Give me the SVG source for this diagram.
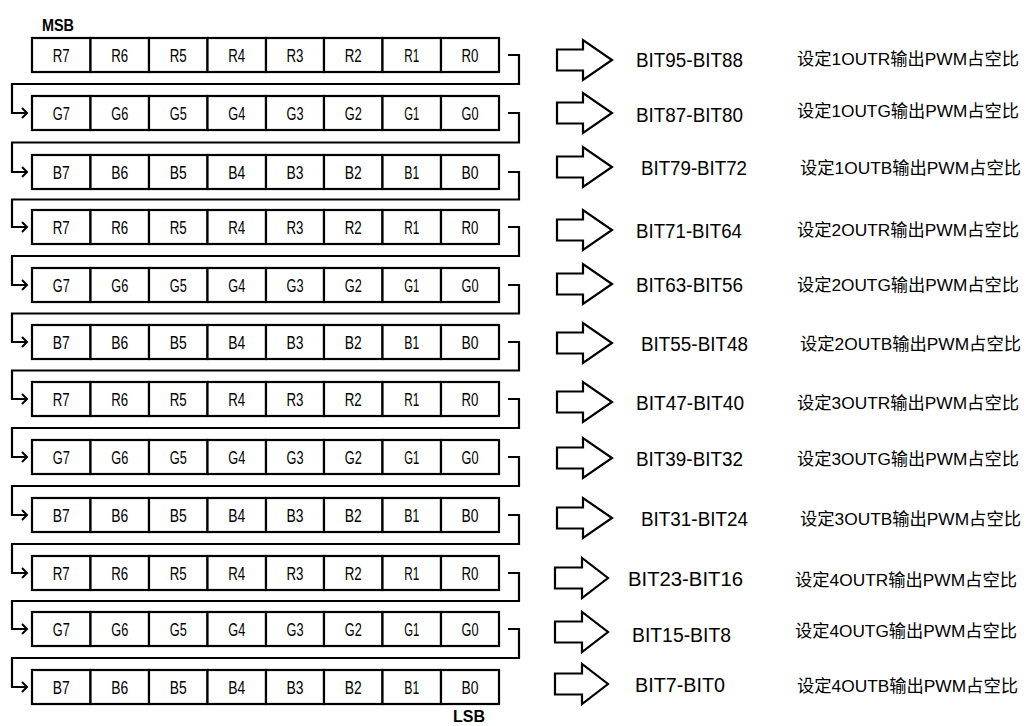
<svg xmlns="http://www.w3.org/2000/svg" width="1031" height="726" viewBox="0 0 1031 726">
<style>
rect{fill:#fff;stroke:#000;stroke-width:2.2}
.c{font-family:"Liberation Sans",Arial,sans-serif;font-size:18px;text-anchor:middle;fill:#000}
.bit{font-family:"Liberation Sans",Arial,sans-serif;font-size:20px;fill:#000}
.cn{font-family:"Liberation Sans","Noto Sans CJK SC",sans-serif;font-size:17px;fill:#000}
.tag{font-family:"Liberation Sans",Arial,sans-serif;font-size:17px;font-weight:bold;fill:#000}
.conn{fill:none;stroke:#000;stroke-width:2.2}
.big{fill:#fff;stroke:#000;stroke-width:2.2;stroke-linejoin:miter}
</style>
<defs>
<marker id="chev" markerUnits="userSpaceOnUse" markerWidth="10" markerHeight="12" refX="6" refY="6" orient="auto">
<path d="M1,1 L6,6 L1,11" fill="none" stroke="#000" stroke-width="2"/>
</marker>
</defs>
<rect x="0" y="0" width="1031" height="726" style="stroke:none"/>
<text class="tag" x="42" y="31" textLength="32" lengthAdjust="spacingAndGlyphs">MSB</text>
<text class="tag" x="453" y="722" textLength="32" lengthAdjust="spacingAndGlyphs">LSB</text>

<g id="row1">
<rect x="32" y="38" width="58.5" height="34"/><rect x="90.5" y="38" width="58.5" height="34"/><rect x="149" y="38" width="58.5" height="34"/><rect x="207.5" y="38" width="58.5" height="34"/><rect x="266" y="38" width="58" height="34"/><rect x="324" y="38" width="58.5" height="34"/><rect x="382.5" y="38" width="58.5" height="34"/><rect x="441" y="38" width="58" height="34"/>
<text class="c" x="61.25" y="61.5" textLength="17" lengthAdjust="spacingAndGlyphs">R7</text><text class="c" x="119.75" y="61.5" textLength="17" lengthAdjust="spacingAndGlyphs">R6</text><text class="c" x="178.25" y="61.5" textLength="17" lengthAdjust="spacingAndGlyphs">R5</text><text class="c" x="236.75" y="61.5" textLength="17" lengthAdjust="spacingAndGlyphs">R4</text><text class="c" x="295" y="61.5" textLength="17" lengthAdjust="spacingAndGlyphs">R3</text><text class="c" x="353.25" y="61.5" textLength="17" lengthAdjust="spacingAndGlyphs">R2</text><text class="c" x="411.75" y="61.5" textLength="15" lengthAdjust="spacingAndGlyphs">R1</text><text class="c" x="470" y="61.5" textLength="17" lengthAdjust="spacingAndGlyphs">R0</text>
</g>
<g id="row2">
<rect x="32" y="96" width="58.5" height="34"/><rect x="90.5" y="96" width="58.5" height="34"/><rect x="149" y="96" width="58.5" height="34"/><rect x="207.5" y="96" width="58.5" height="34"/><rect x="266" y="96" width="58" height="34"/><rect x="324" y="96" width="58.5" height="34"/><rect x="382.5" y="96" width="58.5" height="34"/><rect x="441" y="96" width="58" height="34"/>
<text class="c" x="61.25" y="119.5" textLength="17" lengthAdjust="spacingAndGlyphs">G7</text><text class="c" x="119.75" y="119.5" textLength="17" lengthAdjust="spacingAndGlyphs">G6</text><text class="c" x="178.25" y="119.5" textLength="17" lengthAdjust="spacingAndGlyphs">G5</text><text class="c" x="236.75" y="119.5" textLength="17" lengthAdjust="spacingAndGlyphs">G4</text><text class="c" x="295" y="119.5" textLength="17" lengthAdjust="spacingAndGlyphs">G3</text><text class="c" x="353.25" y="119.5" textLength="17" lengthAdjust="spacingAndGlyphs">G2</text><text class="c" x="411.75" y="119.5" textLength="15" lengthAdjust="spacingAndGlyphs">G1</text><text class="c" x="470" y="119.5" textLength="17" lengthAdjust="spacingAndGlyphs">G0</text>
</g>
<g id="row3">
<rect x="32" y="155" width="58.5" height="34"/><rect x="90.5" y="155" width="58.5" height="34"/><rect x="149" y="155" width="58.5" height="34"/><rect x="207.5" y="155" width="58.5" height="34"/><rect x="266" y="155" width="58" height="34"/><rect x="324" y="155" width="58.5" height="34"/><rect x="382.5" y="155" width="58.5" height="34"/><rect x="441" y="155" width="58" height="34"/>
<text class="c" x="61.25" y="178.5" textLength="17" lengthAdjust="spacingAndGlyphs">B7</text><text class="c" x="119.75" y="178.5" textLength="17" lengthAdjust="spacingAndGlyphs">B6</text><text class="c" x="178.25" y="178.5" textLength="17" lengthAdjust="spacingAndGlyphs">B5</text><text class="c" x="236.75" y="178.5" textLength="17" lengthAdjust="spacingAndGlyphs">B4</text><text class="c" x="295" y="178.5" textLength="17" lengthAdjust="spacingAndGlyphs">B3</text><text class="c" x="353.25" y="178.5" textLength="17" lengthAdjust="spacingAndGlyphs">B2</text><text class="c" x="411.75" y="178.5" textLength="15" lengthAdjust="spacingAndGlyphs">B1</text><text class="c" x="470" y="178.5" textLength="17" lengthAdjust="spacingAndGlyphs">B0</text>
</g>
<g id="row4">
<rect x="32" y="210" width="58.5" height="34"/><rect x="90.5" y="210" width="58.5" height="34"/><rect x="149" y="210" width="58.5" height="34"/><rect x="207.5" y="210" width="58.5" height="34"/><rect x="266" y="210" width="58" height="34"/><rect x="324" y="210" width="58.5" height="34"/><rect x="382.5" y="210" width="58.5" height="34"/><rect x="441" y="210" width="58" height="34"/>
<text class="c" x="61.25" y="233.5" textLength="17" lengthAdjust="spacingAndGlyphs">R7</text><text class="c" x="119.75" y="233.5" textLength="17" lengthAdjust="spacingAndGlyphs">R6</text><text class="c" x="178.25" y="233.5" textLength="17" lengthAdjust="spacingAndGlyphs">R5</text><text class="c" x="236.75" y="233.5" textLength="17" lengthAdjust="spacingAndGlyphs">R4</text><text class="c" x="295" y="233.5" textLength="17" lengthAdjust="spacingAndGlyphs">R3</text><text class="c" x="353.25" y="233.5" textLength="17" lengthAdjust="spacingAndGlyphs">R2</text><text class="c" x="411.75" y="233.5" textLength="15" lengthAdjust="spacingAndGlyphs">R1</text><text class="c" x="470" y="233.5" textLength="17" lengthAdjust="spacingAndGlyphs">R0</text>
</g>
<g id="row5">
<rect x="32" y="268" width="58.5" height="34"/><rect x="90.5" y="268" width="58.5" height="34"/><rect x="149" y="268" width="58.5" height="34"/><rect x="207.5" y="268" width="58.5" height="34"/><rect x="266" y="268" width="58" height="34"/><rect x="324" y="268" width="58.5" height="34"/><rect x="382.5" y="268" width="58.5" height="34"/><rect x="441" y="268" width="58" height="34"/>
<text class="c" x="61.25" y="291.5" textLength="17" lengthAdjust="spacingAndGlyphs">G7</text><text class="c" x="119.75" y="291.5" textLength="17" lengthAdjust="spacingAndGlyphs">G6</text><text class="c" x="178.25" y="291.5" textLength="17" lengthAdjust="spacingAndGlyphs">G5</text><text class="c" x="236.75" y="291.5" textLength="17" lengthAdjust="spacingAndGlyphs">G4</text><text class="c" x="295" y="291.5" textLength="17" lengthAdjust="spacingAndGlyphs">G3</text><text class="c" x="353.25" y="291.5" textLength="17" lengthAdjust="spacingAndGlyphs">G2</text><text class="c" x="411.75" y="291.5" textLength="15" lengthAdjust="spacingAndGlyphs">G1</text><text class="c" x="470" y="291.5" textLength="17" lengthAdjust="spacingAndGlyphs">G0</text>
</g>
<g id="row6">
<rect x="32" y="325" width="58.5" height="34"/><rect x="90.5" y="325" width="58.5" height="34"/><rect x="149" y="325" width="58.5" height="34"/><rect x="207.5" y="325" width="58.5" height="34"/><rect x="266" y="325" width="58" height="34"/><rect x="324" y="325" width="58.5" height="34"/><rect x="382.5" y="325" width="58.5" height="34"/><rect x="441" y="325" width="58" height="34"/>
<text class="c" x="61.25" y="348.5" textLength="17" lengthAdjust="spacingAndGlyphs">B7</text><text class="c" x="119.75" y="348.5" textLength="17" lengthAdjust="spacingAndGlyphs">B6</text><text class="c" x="178.25" y="348.5" textLength="17" lengthAdjust="spacingAndGlyphs">B5</text><text class="c" x="236.75" y="348.5" textLength="17" lengthAdjust="spacingAndGlyphs">B4</text><text class="c" x="295" y="348.5" textLength="17" lengthAdjust="spacingAndGlyphs">B3</text><text class="c" x="353.25" y="348.5" textLength="17" lengthAdjust="spacingAndGlyphs">B2</text><text class="c" x="411.75" y="348.5" textLength="15" lengthAdjust="spacingAndGlyphs">B1</text><text class="c" x="470" y="348.5" textLength="17" lengthAdjust="spacingAndGlyphs">B0</text>
</g>
<g id="row7">
<rect x="32" y="382" width="58.5" height="34"/><rect x="90.5" y="382" width="58.5" height="34"/><rect x="149" y="382" width="58.5" height="34"/><rect x="207.5" y="382" width="58.5" height="34"/><rect x="266" y="382" width="58" height="34"/><rect x="324" y="382" width="58.5" height="34"/><rect x="382.5" y="382" width="58.5" height="34"/><rect x="441" y="382" width="58" height="34"/>
<text class="c" x="61.25" y="405.5" textLength="17" lengthAdjust="spacingAndGlyphs">R7</text><text class="c" x="119.75" y="405.5" textLength="17" lengthAdjust="spacingAndGlyphs">R6</text><text class="c" x="178.25" y="405.5" textLength="17" lengthAdjust="spacingAndGlyphs">R5</text><text class="c" x="236.75" y="405.5" textLength="17" lengthAdjust="spacingAndGlyphs">R4</text><text class="c" x="295" y="405.5" textLength="17" lengthAdjust="spacingAndGlyphs">R3</text><text class="c" x="353.25" y="405.5" textLength="17" lengthAdjust="spacingAndGlyphs">R2</text><text class="c" x="411.75" y="405.5" textLength="15" lengthAdjust="spacingAndGlyphs">R1</text><text class="c" x="470" y="405.5" textLength="17" lengthAdjust="spacingAndGlyphs">R0</text>
</g>
<g id="row8">
<rect x="32" y="440" width="58.5" height="34"/><rect x="90.5" y="440" width="58.5" height="34"/><rect x="149" y="440" width="58.5" height="34"/><rect x="207.5" y="440" width="58.5" height="34"/><rect x="266" y="440" width="58" height="34"/><rect x="324" y="440" width="58.5" height="34"/><rect x="382.5" y="440" width="58.5" height="34"/><rect x="441" y="440" width="58" height="34"/>
<text class="c" x="61.25" y="463.5" textLength="17" lengthAdjust="spacingAndGlyphs">G7</text><text class="c" x="119.75" y="463.5" textLength="17" lengthAdjust="spacingAndGlyphs">G6</text><text class="c" x="178.25" y="463.5" textLength="17" lengthAdjust="spacingAndGlyphs">G5</text><text class="c" x="236.75" y="463.5" textLength="17" lengthAdjust="spacingAndGlyphs">G4</text><text class="c" x="295" y="463.5" textLength="17" lengthAdjust="spacingAndGlyphs">G3</text><text class="c" x="353.25" y="463.5" textLength="17" lengthAdjust="spacingAndGlyphs">G2</text><text class="c" x="411.75" y="463.5" textLength="15" lengthAdjust="spacingAndGlyphs">G1</text><text class="c" x="470" y="463.5" textLength="17" lengthAdjust="spacingAndGlyphs">G0</text>
</g>
<g id="row9">
<rect x="32" y="498" width="58.5" height="34"/><rect x="90.5" y="498" width="58.5" height="34"/><rect x="149" y="498" width="58.5" height="34"/><rect x="207.5" y="498" width="58.5" height="34"/><rect x="266" y="498" width="58" height="34"/><rect x="324" y="498" width="58.5" height="34"/><rect x="382.5" y="498" width="58.5" height="34"/><rect x="441" y="498" width="58" height="34"/>
<text class="c" x="61.25" y="521.5" textLength="17" lengthAdjust="spacingAndGlyphs">B7</text><text class="c" x="119.75" y="521.5" textLength="17" lengthAdjust="spacingAndGlyphs">B6</text><text class="c" x="178.25" y="521.5" textLength="17" lengthAdjust="spacingAndGlyphs">B5</text><text class="c" x="236.75" y="521.5" textLength="17" lengthAdjust="spacingAndGlyphs">B4</text><text class="c" x="295" y="521.5" textLength="17" lengthAdjust="spacingAndGlyphs">B3</text><text class="c" x="353.25" y="521.5" textLength="17" lengthAdjust="spacingAndGlyphs">B2</text><text class="c" x="411.75" y="521.5" textLength="15" lengthAdjust="spacingAndGlyphs">B1</text><text class="c" x="470" y="521.5" textLength="17" lengthAdjust="spacingAndGlyphs">B0</text>
</g>
<g id="row10">
<rect x="32" y="556" width="58.5" height="34"/><rect x="90.5" y="556" width="58.5" height="34"/><rect x="149" y="556" width="58.5" height="34"/><rect x="207.5" y="556" width="58.5" height="34"/><rect x="266" y="556" width="58" height="34"/><rect x="324" y="556" width="58.5" height="34"/><rect x="382.5" y="556" width="58.5" height="34"/><rect x="441" y="556" width="58" height="34"/>
<text class="c" x="61.25" y="579.5" textLength="17" lengthAdjust="spacingAndGlyphs">R7</text><text class="c" x="119.75" y="579.5" textLength="17" lengthAdjust="spacingAndGlyphs">R6</text><text class="c" x="178.25" y="579.5" textLength="17" lengthAdjust="spacingAndGlyphs">R5</text><text class="c" x="236.75" y="579.5" textLength="17" lengthAdjust="spacingAndGlyphs">R4</text><text class="c" x="295" y="579.5" textLength="17" lengthAdjust="spacingAndGlyphs">R3</text><text class="c" x="353.25" y="579.5" textLength="17" lengthAdjust="spacingAndGlyphs">R2</text><text class="c" x="411.75" y="579.5" textLength="15" lengthAdjust="spacingAndGlyphs">R1</text><text class="c" x="470" y="579.5" textLength="17" lengthAdjust="spacingAndGlyphs">R0</text>
</g>
<g id="row11">
<rect x="32" y="612" width="58.5" height="34"/><rect x="90.5" y="612" width="58.5" height="34"/><rect x="149" y="612" width="58.5" height="34"/><rect x="207.5" y="612" width="58.5" height="34"/><rect x="266" y="612" width="58" height="34"/><rect x="324" y="612" width="58.5" height="34"/><rect x="382.5" y="612" width="58.5" height="34"/><rect x="441" y="612" width="58" height="34"/>
<text class="c" x="61.25" y="635.5" textLength="17" lengthAdjust="spacingAndGlyphs">G7</text><text class="c" x="119.75" y="635.5" textLength="17" lengthAdjust="spacingAndGlyphs">G6</text><text class="c" x="178.25" y="635.5" textLength="17" lengthAdjust="spacingAndGlyphs">G5</text><text class="c" x="236.75" y="635.5" textLength="17" lengthAdjust="spacingAndGlyphs">G4</text><text class="c" x="295" y="635.5" textLength="17" lengthAdjust="spacingAndGlyphs">G3</text><text class="c" x="353.25" y="635.5" textLength="17" lengthAdjust="spacingAndGlyphs">G2</text><text class="c" x="411.75" y="635.5" textLength="15" lengthAdjust="spacingAndGlyphs">G1</text><text class="c" x="470" y="635.5" textLength="17" lengthAdjust="spacingAndGlyphs">G0</text>
</g>
<g id="row12">
<rect x="32" y="670" width="58.5" height="34"/><rect x="90.5" y="670" width="58.5" height="34"/><rect x="149" y="670" width="58.5" height="34"/><rect x="207.5" y="670" width="58.5" height="34"/><rect x="266" y="670" width="58" height="34"/><rect x="324" y="670" width="58.5" height="34"/><rect x="382.5" y="670" width="58.5" height="34"/><rect x="441" y="670" width="58" height="34"/>
<text class="c" x="61.25" y="693.5" textLength="17" lengthAdjust="spacingAndGlyphs">B7</text><text class="c" x="119.75" y="693.5" textLength="17" lengthAdjust="spacingAndGlyphs">B6</text><text class="c" x="178.25" y="693.5" textLength="17" lengthAdjust="spacingAndGlyphs">B5</text><text class="c" x="236.75" y="693.5" textLength="17" lengthAdjust="spacingAndGlyphs">B4</text><text class="c" x="295" y="693.5" textLength="17" lengthAdjust="spacingAndGlyphs">B3</text><text class="c" x="353.25" y="693.5" textLength="17" lengthAdjust="spacingAndGlyphs">B2</text><text class="c" x="411.75" y="693.5" textLength="15" lengthAdjust="spacingAndGlyphs">B1</text><text class="c" x="470" y="693.5" textLength="17" lengthAdjust="spacingAndGlyphs">B0</text>
</g>

<g id="connectors">
<path class="conn" marker-end="url(#chev)" d="M508,55 H519 V84 H12 V113 H27"/>
<path class="conn" marker-end="url(#chev)" d="M508,113 H519 V142.5 H12 V172 H27"/>
<path class="conn" marker-end="url(#chev)" d="M508,172 H519 V199.5 H12 V227 H27"/>
<path class="conn" marker-end="url(#chev)" d="M508,227 H519 V256 H12 V285 H27"/>
<path class="conn" marker-end="url(#chev)" d="M508,285 H519 V313.5 H12 V342 H27"/>
<path class="conn" marker-end="url(#chev)" d="M508,342 H519 V370.5 H12 V399 H27"/>
<path class="conn" marker-end="url(#chev)" d="M508,399 H519 V428 H12 V457 H27"/>
<path class="conn" marker-end="url(#chev)" d="M508,457 H519 V486 H12 V515 H27"/>
<path class="conn" marker-end="url(#chev)" d="M508,515 H519 V544 H12 V573 H27"/>
<path class="conn" marker-end="url(#chev)" d="M508,573 H519 V601 H12 V629 H27"/>
<path class="conn" marker-end="url(#chev)" d="M508,629 H519 V658 H12 V687 H27"/>
</g>

<g id="arrows">
<polygon class="big" points="557,49.5 583,49.5 583,40 612,60 583,80 583,70.5 557,70.5"/>
<polygon class="big" points="557,102.5 583,102.5 583,93 612,113 583,133 583,123.5 557,123.5"/>
<polygon class="big" points="557,156.5 583,156.5 583,147 612,167 583,187 583,177.5 557,177.5"/>
<polygon class="big" points="557,219.5 583,219.5 583,210 612,230 583,250 583,240.5 557,240.5"/>
<polygon class="big" points="557,273.5 583,273.5 583,264 612,284 583,304 583,294.5 557,294.5"/>
<polygon class="big" points="557,332.5 583,332.5 583,323 612,343 583,363 583,353.5 557,353.5"/>
<polygon class="big" points="557,391.5 583,391.5 583,382 612,402 583,422 583,412.5 557,412.5"/>
<polygon class="big" points="557,447.5 583,447.5 583,438 612,458 583,478 583,468.5 557,468.5"/>
<polygon class="big" points="557,507.5 583,507.5 583,498 612,518 583,538 583,528.5 557,528.5"/>
<polygon class="big" points="555,567.5 582,567.5 582,558 608,578 582,598 582,588.5 555,588.5"/>
<polygon class="big" points="555,621.5 582,621.5 582,612 608,632 582,652 582,642.5 555,642.5"/>
<polygon class="big" points="555,673.5 582,673.5 582,664 608,684 582,704 582,694.5 555,694.5"/>
</g>

<g id="bit-labels">
<text class="bit" x="636" y="67" textLength="107" lengthAdjust="spacingAndGlyphs">BIT95-BIT88</text>
<text class="bit" x="636" y="121.5" textLength="107" lengthAdjust="spacingAndGlyphs">BIT87-BIT80</text>
<text class="bit" x="641" y="174.5" textLength="106" lengthAdjust="spacingAndGlyphs">BIT79-BIT72</text>
<text class="bit" x="636" y="237.5" textLength="106" lengthAdjust="spacingAndGlyphs">BIT71-BIT64</text>
<text class="bit" x="636" y="291.5" textLength="107" lengthAdjust="spacingAndGlyphs">BIT63-BIT56</text>
<text class="bit" x="641" y="350.5" textLength="107" lengthAdjust="spacingAndGlyphs">BIT55-BIT48</text>
<text class="bit" x="636" y="409.5" textLength="108" lengthAdjust="spacingAndGlyphs">BIT47-BIT40</text>
<text class="bit" x="636" y="465.5" textLength="107" lengthAdjust="spacingAndGlyphs">BIT39-BIT32</text>
<text class="bit" x="641" y="525.5" textLength="107" lengthAdjust="spacingAndGlyphs">BIT31-BIT24</text>
<text class="bit" x="628" y="585.5" textLength="115" lengthAdjust="spacingAndGlyphs">BIT23-BIT16</text>
<text class="bit" x="632" y="642" textLength="99" lengthAdjust="spacingAndGlyphs">BIT15-BIT8</text>
<text class="bit" x="635" y="692" textLength="90" lengthAdjust="spacingAndGlyphs">BIT7-BIT0</text>
</g>

<g id="desc-labels">
<text class="cn" x="797" y="65" textLength="222" lengthAdjust="spacingAndGlyphs">设定1OUTR输出PWM占空比</text>
<text class="cn" x="797" y="116.5" textLength="222" lengthAdjust="spacingAndGlyphs">设定1OUTG输出PWM占空比</text>
<text class="cn" x="800" y="173.5" textLength="221" lengthAdjust="spacingAndGlyphs">设定1OUTB输出PWM占空比</text>
<text class="cn" x="797" y="235.5" textLength="222" lengthAdjust="spacingAndGlyphs">设定2OUTR输出PWM占空比</text>
<text class="cn" x="797" y="290.5" textLength="222" lengthAdjust="spacingAndGlyphs">设定2OUTG输出PWM占空比</text>
<text class="cn" x="800" y="349.5" textLength="221" lengthAdjust="spacingAndGlyphs">设定2OUTB输出PWM占空比</text>
<text class="cn" x="797" y="408.5" textLength="222" lengthAdjust="spacingAndGlyphs">设定3OUTR输出PWM占空比</text>
<text class="cn" x="797" y="464.5" textLength="222" lengthAdjust="spacingAndGlyphs">设定3OUTG输出PWM占空比</text>
<text class="cn" x="800" y="524.5" textLength="221" lengthAdjust="spacingAndGlyphs">设定3OUTB输出PWM占空比</text>
<text class="cn" x="795" y="585.5" textLength="222" lengthAdjust="spacingAndGlyphs">设定4OUTR输出PWM占空比</text>
<text class="cn" x="795" y="636.5" textLength="222" lengthAdjust="spacingAndGlyphs">设定4OUTG输出PWM占空比</text>
<text class="cn" x="797" y="691.5" textLength="221" lengthAdjust="spacingAndGlyphs">设定4OUTB输出PWM占空比</text>
</g>
</svg>
